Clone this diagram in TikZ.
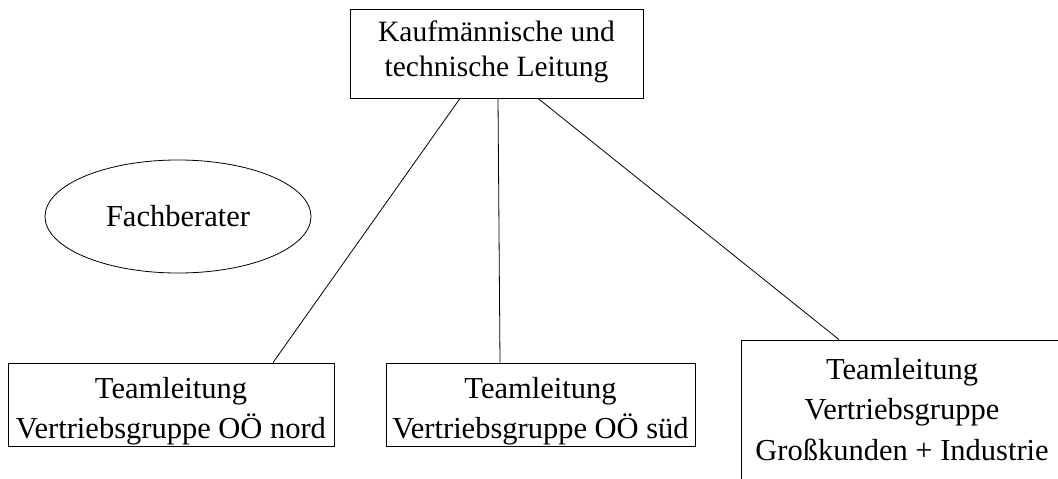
\documentclass[tikz,border=0pt]{standalone}
\usepackage{fontspec}
\setmainfont{Liberation Serif}
\usetikzlibrary{shapes.geometric}
\begin{document}
\begin{tikzpicture}[x=1pt,y=-1pt,
  box/.style={draw=black,line width=0.8pt,rectangle,inner sep=0pt},
  oval/.style={draw=black,line width=0.8pt,ellipse,inner sep=0pt,
    font=\fontsize{30.5}{40}\selectfont},
  txt/.style={align=center,inner sep=0pt,font=\fontsize{30.5}{40.3}\selectfont},
  toptxt/.style={align=center,inner sep=0pt,font=\fontsize{29.5}{35.3}\selectfont},
  conn/.style={draw=black,line width=0.8pt}]
\clip (0,0) rectangle (1058,479);
\fill[white] (0,0) rectangle (1058,479);
% boxes
\node[box,minimum width=293pt,minimum height=89pt] (top) at (496.5,53.5) {};
\node[toptxt] (toplabel) at (496.5,51.5) {Kaufmännische und\\technische Leitung};
\node[oval,minimum width=266pt,minimum height=113pt] (fach) at (178,216.5) {Fachberater};
\node[box,minimum width=326pt,minimum height=83pt] (nord) at (171,404.5) {};
\node[txt] (nordlabel) at (171,411.5) {Teamleitung\\Vertriebsgruppe OÖ nord};
\node[box,minimum width=309pt,minimum height=83pt] (sued) at (540.5,404.5) {};
\node[txt] (suedlabel) at (540.5,411.5) {Teamleitung\\Vertriebsgruppe OÖ süd};
\node[box,minimum width=329pt,minimum height=160pt] (gross) at (905.5,420) {};
\node[txt] (grosslabel) at (902,409.5) {Teamleitung\\Vertriebsgruppe\\Großkunden + Industrie};
% connectors
\draw[conn] ([xshift=-36.5pt]top.south) -- ([xshift=102pt]nord.north);
\draw[conn] ([xshift=1.5pt]top.south) -- ([xshift=-40.5pt]sued.north);
\draw[conn] ([xshift=41.5pt]top.south) -- ([xshift=-66.5pt]gross.north);
\end{tikzpicture}
\end{document}
